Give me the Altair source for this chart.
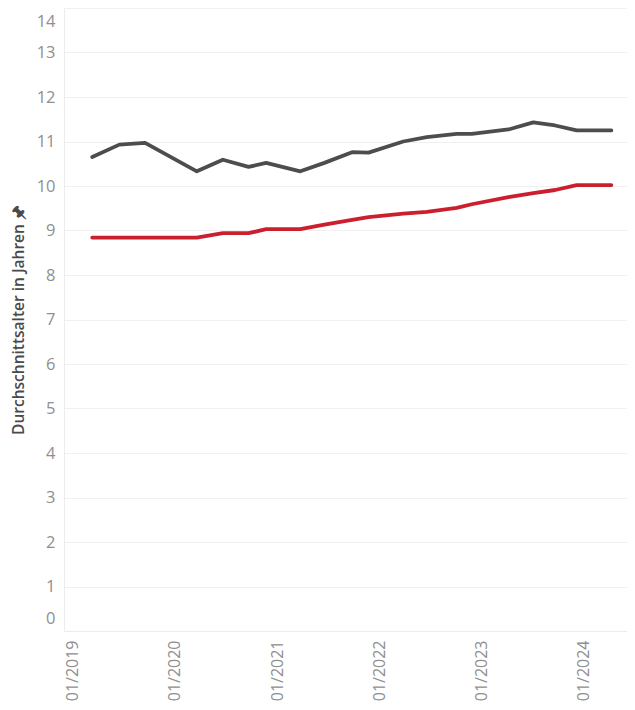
import altair as alt
import pandas as pd

# ---- data ----
dates = [
    "2019-03-12", "2019-06-17", "2019-09-17", "2020-03-20", "2020-06-21",
    "2020-09-21", "2020-11-23", "2021-03-25", "2021-06-19", "2021-09-26",
    "2021-11-24", "2022-03-28", "2022-06-20", "2022-10-05", "2022-11-28",
    "2023-04-08", "2023-07-06", "2023-09-22", "2023-12-08", "2024-04-10",
]
gray_values = [
    10.65, 10.93, 10.97, 10.33, 10.59,
    10.43, 10.52, 10.33, 10.52, 10.76,
    10.75, 11.00, 11.10, 11.17, 11.17,
    11.27, 11.43, 11.36, 11.25, 11.25,
]
red_values = [
    8.84, 8.84, 8.84, 8.84, 8.94,
    8.94, 9.03, 9.03, 9.13, 9.24,
    9.30, 9.38, 9.42, 9.51, 9.59,
    9.75, 9.84, 9.91, 10.02, 10.02,
]
series_names = ["Reihe grau", "Reihe rot"]
series_colors = ["#4d4d4d", "#cc1f2d"]
y_ticks = list(range(0, 15))
year_ticks = [2019, 2020, 2021, 2022, 2023, 2024]

rows = []
for d, g, r in zip(dates, gray_values, red_values):
    rows.append({"Datum": d + "T00:00:00", "Serie": series_names[0], "Wert": g})
    rows.append({"Datum": d + "T00:00:00", "Serie": series_names[1], "Wert": r})
df = pd.DataFrame(rows)

FONT = "Open Sans"

chart = (
    alt.Chart(df)
    .mark_line(strokeWidth=3.8, strokeJoin="round", strokeCap="round")
    .encode(
        x=alt.X(
            "Datum:T",
            title=None,
            scale=alt.Scale(
                domain=[
                    alt.DateTime(year=2018, month=12, date=1),
                    alt.DateTime(year=2024, month=6, date=5),
                ]
            ),
            axis=alt.Axis(
                values=[alt.DateTime(year=y, month=1, date=1) for y in year_ticks],
                format="%m/%Y",
                labelAngle=270,
                labelFontSize=16,
                labelFont=FONT,
                labelColor="#8f8f8f",
                labelPadding=9,
                ticks=False,
                grid=False,
                domainColor="#ececec",
                domainWidth=1,
            ),
        ),
        y=alt.Y(
            "Wert:Q",
            title="Durchschnittsalter in Jahren 🖈",
            scale=alt.Scale(domain=[0, 14], nice=False),
            axis=alt.Axis(
                values=y_ticks,
                labelFontSize=16.5,
                labelFont=FONT,
                labelColor="#8f8f8f",
                labelPadding=9,
                labelFlush=True,
                labelFlushOffset=-5,
                ticks=False,
                grid=True,
                gridColor="#f0f0f0",
                domainColor="#ececec",
                titleFont=FONT,
                titleFontSize=15.5,
                titleFontWeight=600,
                titleColor="#4a4a4a",
                titlePadding=10,
            ),
        ),
        color=alt.Color(
            "Serie:N",
            scale=alt.Scale(domain=series_names, range=series_colors),
            legend=None,
        ),
    )
    .properties(
        width=563,
        height=623,
        autosize=alt.AutoSizeParams(type="none"),
        padding={"left": 56, "top": 0, "right": 0, "bottom": 70},
    )
    .configure_view(stroke=None)
)

chart.save("out.html", embed_options={"renderer": "svg", "actions": False})
